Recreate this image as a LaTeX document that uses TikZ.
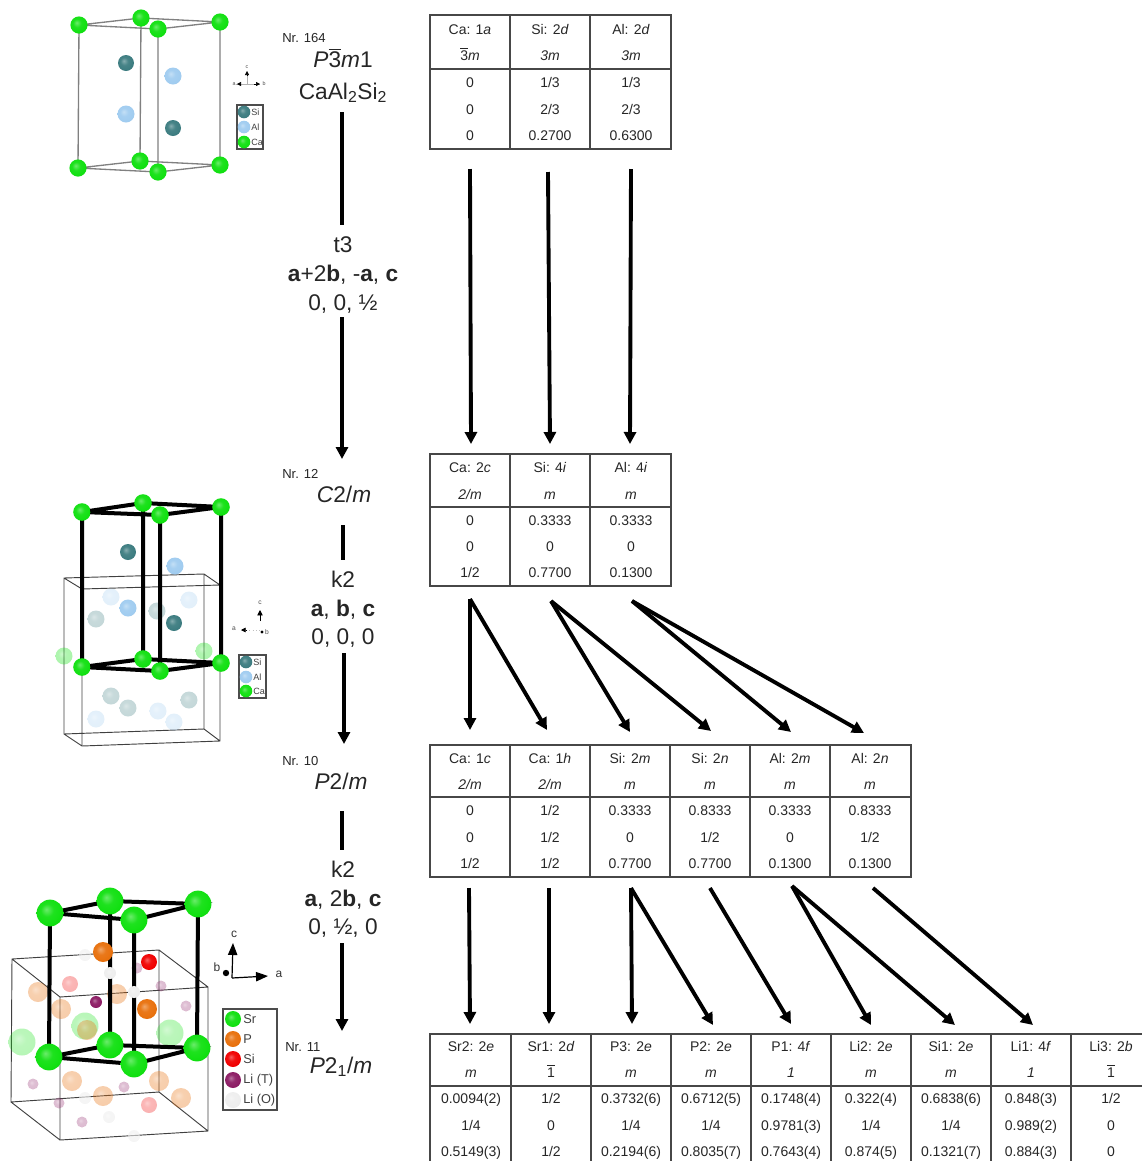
\documentclass[tikz,border=0pt]{standalone}
\usepackage{fontspec}
\setmainfont{Liberation Sans}
\usetikzlibrary{arrows.meta}
\definecolor{cagreen}{HTML}{10E010}
\definecolor{siteal}{HTML}{3C7C80}
\definecolor{alblue}{HTML}{A0CCF0}
\definecolor{porange}{HTML}{E8700C}
\definecolor{sired}{HTML}{F00000}
\definecolor{lipurple}{HTML}{8C1C64}
\definecolor{liwhite}{HTML}{EEEEEE}
\definecolor{txt}{HTML}{262626}
\pgfdeclareradialshading[tikz@ball]{softball}{\pgfqpoint{-7bp}{7bp}}{%
 color(0bp)=(tikz@ball!62!white);
 color(12bp)=(tikz@ball!94!white);
 color(26bp)=(tikz@ball);
 color(36bp)=(tikz@ball!85!black);
 color(50bp)=(tikz@ball!65!black)}
\newcommand\crball[5][1]{\shade[ball color=#5,shading=softball,opacity=#1] (#2,#3) circle[radius=#4];}
\newcommand\ovl[1]{$\overline{\hbox{#1}}$}
\newcommand\tabcol[7]{%
 \node[cell] (#1a) at (#2,\rowA) {#3};
 \node[cell] (#1b) at (#2,\rowB) {#4};
 \node[cell] (#1c) at (#2,\rowC) {#5};
 \node[cell] (#1d) at (#2,\rowD) {#6};
 \node[cell] (#1e) at (#2,\rowE) {#7};}
\tikzset{
 cell/.style={inner sep=0pt,text height=7.5pt,text depth=0pt,text=txt},
 nr/.style={inner sep=0pt,anchor=west,font=\fontsize{9.8}{12}\selectfont,text=txt},
 sg/.style={inner sep=0pt,font=\fontsize{17}{20}\selectfont,text=txt},
 rel/.style={inner sep=0pt,font=\fontsize{17}{20}\selectfont,text=txt},
 tline/.style={line width=.8pt,draw=black!72},
 stem/.style={line width=2.9pt,black},
 arr/.style={line width=2.9pt,black,-{Triangle[length=9pt,width=9pt]}},
 frame/.style={draw=black!75,line width=.7pt},
 thick edge/.style={line width=3pt,black,line cap=round},
 thin edge/.style={draw=black!50,line width=1pt},
 legendbox/.style={draw=black!70,line width=.8pt},
 legtext/.style={inner sep=0pt,anchor=west,text=black!75},
 tiny/.style={inner sep=0pt,font=\fontsize{4}{5}\selectfont,text=black!70},
}
\begin{document}
\begin{tikzpicture}[x=.75pt,y=-.75pt]
\useasboundingbox (0,0) rectangle (1142,1161);
% ---------- crystal 1 ----------
\draw[thin edge] (79,25)--(141,18)--(220,22)--(158,29)--cycle (78,168)--(140,161)--(220,165)--(158,172)--cycle
 (79,25)--(78,168) (141,18)--(140,161) (158,29)--(158,172) (220,22)--(220,165);
\foreach \x/\y in {126/63,173/128}{\crball{\x}{\y}{8}{siteal}}
\foreach \x/\y in {173/76,126/114}{\crball{\x}{\y}{8.5}{alblue}}
\foreach \x/\y in {141/18,79/25,220/22,158/29,140/161,78/168,220/165,158/172}{\crball{\x}{\y}{8.6}{cagreen}}
\coordinate (o1) at (247,84);
\draw[black!30,line width=.4pt] (236,84)--(260,84) (247,74)--(247,84);
\draw[-{Triangle[length=3pt,width=3pt]},line width=.4pt] (240,84)--(237,84);
\draw[-{Triangle[length=3pt,width=3pt]},line width=.4pt] (254,84)--(260,84);
\draw[-{Triangle[length=3pt,width=3pt]},line width=.4pt] (247,76)--(247,71);
\node[tiny] (la1) at (234,84) {a};
\node[tiny] (lb1) at (264,84) {b};
\node[tiny] (lc1) at (247,67) {c};
\draw[legendbox] (237,105) rectangle (263,149);
\crball{244}{112}{6.3}{siteal}\crball{244}{127}{6.3}{alblue}\crball{244}{142}{6.3}{cagreen}
\begin{scope}[every node/.append style={font=\fontsize{6.8}{8}\selectfont}]
\node[legtext] (s1) at (251,112) {Si};
\node[legtext] (s2) at (251,127) {Al};
\node[legtext] (s3) at (251,142) {Ca};
\end{scope}
% ---------- crystal 2 ----------
\draw[frame] (64,578)--(204,574)--(204,729)--(64,734)--cycle (82,589)--(220,585)--(220,741)--(82,746)--cycle
 (64,578)--(82,589) (204,574)--(220,585) (204,729)--(220,741) (64,734)--(82,746);
\foreach \x/\y in {111/597,189/600,158/711,96/719,174/722}{\crball[.3]{\x}{\y}{8.5}{alblue}}
\foreach \x/\y in {96/619,157/611,111/696,128/708,189/700}{\crball[.3]{\x}{\y}{8.5}{siteal}}
\foreach \x/\y in {64/656,204/651}{\crball[.35]{\x}{\y}{8.5}{cagreen}}
\foreach \x/\y in {128/552,174/623}{\crball{\x}{\y}{8}{siteal}}
\foreach \x/\y in {175/566,128/608}{\crball{\x}{\y}{8.5}{alblue}}
\draw[thick edge] (82,512)--(143,503)--(221,507)--(160,515)--cycle (82,667)--(143,659)--(221,663)--(160,671)--cycle
 (82,512)--(82,667) (143,503)--(143,659) (160,515)--(160,671) (221,507)--(221,663);
\foreach \x/\y in {143/503,82/512,221/507,160/515,143/659,82/667,221/663,160/671}{\crball{\x}{\y}{8.8}{cagreen}}
\draw[black!25,line width=.4pt,dotted] (243,630)--(262,630);
\draw[-{Triangle[length=3.5pt,width=3.5pt]},line width=.5pt] (247,630)--(241,630);
\draw[-{Triangle[length=4pt,width=4pt]},line width=.5pt] (260,621)--(260,610);
\fill (262,632) circle[radius=1.6];
\node[tiny,font=\fontsize{5}{6}\selectfont] (la2) at (234,629) {a};
\node[tiny,font=\fontsize{5}{6}\selectfont] (lb2) at (267,632) {b};
\node[tiny,font=\fontsize{5}{6}\selectfont] (lc2) at (260,603) {c};
\draw[legendbox] (239,655) rectangle (266,698);
\crball{246}{662}{6.3}{siteal}\crball{246}{677}{6.3}{alblue}\crball{246}{691}{6.3}{cagreen}
\begin{scope}[every node/.append style={font=\fontsize{6.8}{8}\selectfont}]
\node[legtext] (t1) at (253,662) {Si};
\node[legtext] (t2) at (253,677) {Al};
\node[legtext] (t3) at (253,691) {Ca};
\end{scope}
% ---------- crystal 3 ----------
\draw[frame] (12,959)--(159,950)--(159,1092)--(11,1102)--cycle (60,997)--(208,987)--(208,1131)--(60,1140)--cycle
 (12,959)--(60,997) (159,950)--(208,987) (159,1092)--(208,1131) (11,1102)--(60,1140);
\foreach \x/\y in {22/1042,85/1026,170/1033}{\crball[.3]{\x}{\y}{13.5}{cagreen}}
\foreach \x/\y in {38/992,61/1009,117/994,87/1030,72/1081,159/1081,103/1096,181/1098}{\crball[.35]{\x}{\y}{10}{porange}}
\foreach \x/\y in {70/984,149/1105}{\crball[.3]{\x}{\y}{8}{sired}}
\foreach \x/\y in {137/968,161/986,186/1006,33/1084,124/1087,59/1103,82/1122}{\crball[.3]{\x}{\y}{5.5}{lipurple}}
\foreach \x/\y in {85/955,85/1098,109/1117,134/1136}{\crball[.6]{\x}{\y}{6}{liwhite}}
\draw[thick edge] (50,913)--(110,901)--(198,904)--(134,920)--cycle (49,1057)--(110,1045)--(197,1048)--(134,1064)--cycle
 (50,913)--(49,1057) (110,901)--(110,1045) (134,920)--(134,1064) (198,904)--(197,1048);
\foreach \x/\y in {103/952,147/1009}{\crball{\x}{\y}{10}{porange}}
\crball{149}{962}{8}{sired}
\crball{96}{1002}{6}{lipurple}
\foreach \x/\y in {110/973,134/992}{\crball{\x}{\y}{6}{liwhite}}
\foreach \x/\y in {110/901,50/913,198/904,134/920,110/1045,49/1057,197/1048,134/1064}{\crball{\x}{\y}{13.4}{cagreen}}
\coordinate (o3) at (232,978);
\coordinate (o3c) at (233,943);
\coordinate (o3a) at (268,976);
\draw[line width=.9pt,-{Triangle[length=9pt,width=7pt]}] (o3)--(o3c);
\draw[line width=.9pt,-{Triangle[length=9pt,width=7pt]}] (o3)--(o3a);
\fill (226,973) circle[radius=3.2];
\node[inner sep=0pt,font=\fontsize{9}{11}\selectfont,text=black!80] (la3) at (279,974) {a};
\node[inner sep=0pt,font=\fontsize{9}{11}\selectfont,text=black!80] (lb3) at (217,967) {b};
\node[inner sep=0pt,font=\fontsize{9}{11}\selectfont,text=black!80] (lc3) at (234,934) {c};
\draw[legendbox] (223,1009) rectangle (277,1110);
\crball{233}{1019}{8}{cagreen}\crball{233}{1039}{8}{porange}\crball{233}{1059}{8}{sired}\crball{233}{1080}{8}{lipurple}\crball{233}{1100}{8}{liwhite}
\begin{scope}[every node/.append style={font=\fontsize{9.6}{11}\selectfont}]
\node[legtext] (u1) at (243,1019) {Sr};
\node[legtext] (u2) at (243,1039) {P};
\node[legtext] (u3) at (243,1059) {Si};
\node[legtext] (u4) at (243,1080) {Li (T)};
\node[legtext] (u5) at (243,1100) {Li (O)};
\end{scope}
% ---------- centre column ----------
\node[nr] (nr1) at (282,38) {Nr. 164};
\node[sg] (sg1) at (343,58) {\textit{P}\ovl{3}\textit{m}1};
\node[sg] (form) at (343,93) {CaAl\textsubscript{2}Si\textsubscript{2}};
\node[rel] (r1a) at (343,245) {t3};
\node[rel] (r1b) at (343,275) {\textbf{a}+2\textbf{b}, -\textbf{a}, \textbf{c}};
\node[rel] (r1c) at (343,304) {0, 0, ½};
\node[nr] (nr2) at (282,474) {Nr. 12};
\node[sg] (sg2) at (344,494) {\textit{C}2/\textit{m}};
\node[rel] (r2a) at (343,579) {k2};
\node[rel] (r2b) at (343,610) {\textbf{a}, \textbf{b}, \textbf{c}};
\node[rel] (r2c) at (343,638) {0, 0, 0};
\node[nr] (nr3) at (282,761) {Nr. 10};
\node[sg] (sg3) at (341,781) {\textit{P}2/\textit{m}};
\node[rel] (r3a) at (343,869) {k2};
\node[rel] (r3b) at (343,900) {\textbf{a}, 2\textbf{b}, \textbf{c}};
\node[rel] (r3c) at (343,928) {0, ½, 0};
\node[nr] (nr4) at (285,1047) {Nr. 11};
\node[sg] (sg4) at (341,1067) {\textit{P}2\textsubscript{1}/\textit{m}};
\coordinate (m1) at (342,112); \coordinate (m2) at (342,225);
\coordinate (m3) at (342,317); \coordinate (m4) at (342,459);
\coordinate (m5) at (343,525); \coordinate (m6) at (343,560);
\coordinate (m7) at (344,653); \coordinate (m8) at (344,744);
\coordinate (m9) at (342,811); \coordinate (m10) at (342,850);
\coordinate (m11) at (342,943); \coordinate (m12) at (342,1031);
\draw[stem] (m1)--(m2);
\draw[arr] (m3)--(m4);
\draw[stem] (m5)--(m6);
\draw[arr] (m7)--(m8);
\draw[stem] (m9)--(m10);
\draw[arr] (m11)--(m12);
% ---------- tables ----------
\begin{scope}[every node/.append style={font=\fontsize{10.5}{12}\selectfont}]
\def\rowA{29}\def\rowB{55}\def\rowC{82}\def\rowD{109}\def\rowE{135}
\tabcol{pa}{470}{Ca: 1\textit{a}}{\ovl{3}\textit{m}}{0}{0}{0}
\tabcol{pb}{550}{Si: 2\textit{d}}{\textit{3m}}{1/3}{2/3}{0.2700}
\tabcol{pc}{631}{Al: 2\textit{d}}{\textit{3m}}{1/3}{2/3}{0.6300}
\def\rowA{467}\def\rowB{494}\def\rowC{520}\def\rowD{546}\def\rowE{572}
\tabcol{qa}{470}{Ca: 2\textit{c}}{\textit{2/m}}{0}{0}{1/2}
\tabcol{qb}{550}{Si: 4\textit{i}}{\textit{m}}{0.3333}{0}{0.7700}
\tabcol{qc}{631}{Al: 4\textit{i}}{\textit{m}}{0.3333}{0}{0.1300}
\def\rowA{758}\def\rowB{784}\def\rowC{810}\def\rowD{837}\def\rowE{863}
\tabcol{ra}{470}{Ca: 1\textit{c}}{\textit{2/m}}{0}{0}{1/2}
\tabcol{rb}{550}{Ca: 1\textit{h}}{\textit{2/m}}{1/2}{1/2}{1/2}
\tabcol{rc}{630}{Si: 2\textit{m}}{\textit{m}}{0.3333}{0}{0.7700}
\tabcol{rd}{710}{Si: 2\textit{n}}{\textit{m}}{0.8333}{1/2}{0.7700}
\tabcol{re}{790}{Al: 2\textit{m}}{\textit{m}}{0.3333}{0}{0.1300}
\tabcol{rf}{870}{Al: 2\textit{n}}{\textit{m}}{0.8333}{1/2}{0.1300}
\def\rowA{1046}\def\rowB{1072}\def\rowC{1098}\def\rowD{1125}\def\rowE{1151}
\tabcol{sa}{471}{Sr2: 2\textit{e}}{\textit{m}}{0.0094(2)}{1/4}{0.5149(3)}
\tabcol{sb}{551}{Sr1: 2\textit{d}}{\ovl{1}}{1/2}{0}{1/2}
\tabcol{sc}{631}{P3: 2\textit{e}}{\textit{m}}{0.3732(6)}{1/4}{0.2194(6)}
\tabcol{sd}{711}{P2: 2\textit{e}}{\textit{m}}{0.6712(5)}{1/4}{0.8035(7)}
\tabcol{se}{791}{P1: 4\textit{f}}{\textit{1}}{0.1748(4)}{0.9781(3)}{0.7643(4)}
\tabcol{sf}{871}{Li2: 2\textit{e}}{\textit{m}}{0.322(4)}{1/4}{0.874(5)}
\tabcol{sg}{951}{Si1: 2\textit{e}}{\textit{m}}{0.6838(6)}{1/4}{0.1321(7)}
\tabcol{sh}{1031}{Li1: 4\textit{f}}{\textit{1}}{0.848(3)}{0.989(2)}{0.884(3)}
\tabcol{si}{1111}{Li3: 2\textit{b}}{\ovl{1}}{1/2}{0}{0}
\end{scope}
% table rules
\draw[tline] (430,15) rectangle (671,149) (430,69)--(671,69);
\foreach \x in {510,590}{\draw[tline] (\x,15)--(\x,149);}
\draw[tline] (430,454) rectangle (671,586) (430,507)--(671,507);
\foreach \x in {510,590}{\draw[tline] (\x,454)--(\x,586);}
\draw[tline] (430,745) rectangle (911,877) (430,797)--(911,797);
\foreach \x in {510,590,670,750,830}{\draw[tline] (\x,745)--(\x,877);}
\draw[tline] (430,1161)--(430,1034)--(1142,1034) (430,1086)--(1142,1086);
\foreach \x in {511,591,671,751,831,911,991,1071}{\draw[tline] (\x,1034)--(\x,1161);}
% ---------- site arrows ----------
\coordinate (a1s) at (470,169); \coordinate (a1e) at (471,444);
\coordinate (a2s) at (548,172); \coordinate (a2e) at (550,444);
\coordinate (a3s) at (631,169); \coordinate (a3e) at (630,444);
\draw[arr] (a1s)--(a1e); \draw[arr] (a2s)--(a2e); \draw[arr] (a3s)--(a3e);
\coordinate (b1s) at (470,599); \coordinate (b1e) at (470,730); \coordinate (b2e) at (547,730);
\coordinate (b3s) at (551,601); \coordinate (b3e) at (630,732); \coordinate (b4e) at (711,731);
\coordinate (b5s) at (632,601); \coordinate (b5e) at (791,732); \coordinate (b6e) at (864,733);
\draw[arr] (b1s)--(b1e); \draw[arr] (b1s)--(b2e);
\draw[arr] (b3s)--(b3e); \draw[arr] (b3s)--(b4e);
\draw[arr] (b5s)--(b5e); \draw[arr] (b5s)--(b6e);
\coordinate (c1s) at (469,888); \coordinate (c1e) at (470,1024);
\coordinate (c2s) at (549,888); \coordinate (c2e) at (549,1024);
\coordinate (c3s) at (631,888); \coordinate (c3e) at (632,1024); \coordinate (c4e) at (713,1025);
\coordinate (c5s) at (710,888); \coordinate (c5e) at (791,1024);
\coordinate (c6s) at (792,886); \coordinate (c6e) at (871,1025); \coordinate (c7e) at (955,1025);
\coordinate (c8s) at (873,888); \coordinate (c8e) at (1033,1025);
\draw[arr] (c1s)--(c1e); \draw[arr] (c2s)--(c2e);
\draw[arr] (c3s)--(c3e); \draw[arr] (c3s)--(c4e);
\draw[arr] (c5s)--(c5e);
\draw[arr] (c6s)--(c6e); \draw[arr] (c6s)--(c7e);
\draw[arr] (c8s)--(c8e);
\end{tikzpicture}
\end{document}
